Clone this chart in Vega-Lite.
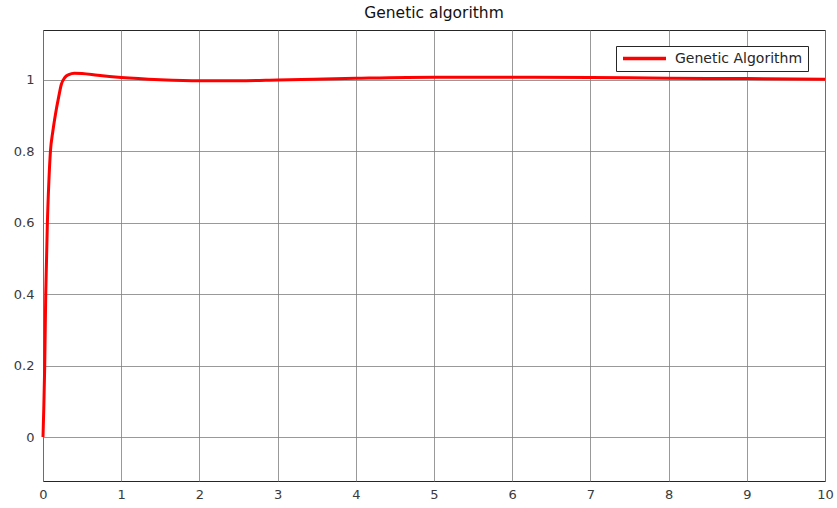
{
  "$schema": "https://vega.github.io/schema/vega-lite/v6.json",
  "width": 782,
  "height": 451,
  "autosize": "none",
  "padding": {"left": 43, "top": 30, "right": 12, "bottom": 27},
  "background": "white",
  "title": {"text": "Genetic algorithm", "fontSize": 15.5, "font": "DejaVu Sans", "fontWeight": "normal", "color": "#111111", "offset": 9, "anchor": "middle"},
  "config": {
    "view": {"stroke": "#262626", "strokeWidth": 1},
    "axis": {"labelFont": "DejaVu Sans", "labelFontSize": 13, "labelColor": "#3a3a3a", "gridColor": "#808080", "gridWidth": 1, "gridOpacity": 0.8, "domain": false, "ticks": false, "title": null}
  },
  "data": {"values": [
    {"t": 0, "v": 0, "s": "Genetic Algorithm"},
    {"t": 0.01, "v": 0.08, "s": "Genetic Algorithm"},
    {"t": 0.022, "v": 0.2, "s": "Genetic Algorithm"},
    {"t": 0.035, "v": 0.4, "s": "Genetic Algorithm"},
    {"t": 0.056, "v": 0.6, "s": "Genetic Algorithm"},
    {"t": 0.075, "v": 0.715, "s": "Genetic Algorithm"},
    {"t": 0.095, "v": 0.8, "s": "Genetic Algorithm"},
    {"t": 0.125, "v": 0.855, "s": "Genetic Algorithm"},
    {"t": 0.16, "v": 0.905, "s": "Genetic Algorithm"},
    {"t": 0.2, "v": 0.952, "s": "Genetic Algorithm"},
    {"t": 0.235, "v": 0.988, "s": "Genetic Algorithm"},
    {"t": 0.28, "v": 1.007, "s": "Genetic Algorithm"},
    {"t": 0.33, "v": 1.015, "s": "Genetic Algorithm"},
    {"t": 0.4, "v": 1.019, "s": "Genetic Algorithm"},
    {"t": 0.5, "v": 1.018, "s": "Genetic Algorithm"},
    {"t": 0.7, "v": 1.013, "s": "Genetic Algorithm"},
    {"t": 1, "v": 1.007, "s": "Genetic Algorithm"},
    {"t": 1.5, "v": 1.001, "s": "Genetic Algorithm"},
    {"t": 2, "v": 0.998, "s": "Genetic Algorithm"},
    {"t": 2.5, "v": 0.998, "s": "Genetic Algorithm"},
    {"t": 3, "v": 1.0, "s": "Genetic Algorithm"},
    {"t": 4, "v": 1.005, "s": "Genetic Algorithm"},
    {"t": 5, "v": 1.008, "s": "Genetic Algorithm"},
    {"t": 6, "v": 1.008, "s": "Genetic Algorithm"},
    {"t": 7, "v": 1.007, "s": "Genetic Algorithm"},
    {"t": 8, "v": 1.005, "s": "Genetic Algorithm"},
    {"t": 9, "v": 1.004, "s": "Genetic Algorithm"},
    {"t": 10, "v": 1.002, "s": "Genetic Algorithm"}
  ]},
  "mark": {"type": "line", "strokeWidth": 3, "interpolate": "monotone"},
  "encoding": {
    "x": {"field": "t", "type": "quantitative", "scale": {"domain": [0, 10], "nice": false, "zero": false},
      "axis": {"values": [0,1,2,3,4,5,6,7,8,9,10], "labelPadding": 7, "labelFlush": false, "format": "d"}},
    "y": {"field": "v", "type": "quantitative", "scale": {"domain": [-0.123, 1.14], "nice": false, "zero": false},
      "axis": {"values": [0,0.2,0.4,0.6,0.8,1], "labelPadding": 9, "format": "~g"}},
    "color": {"field": "s", "type": "nominal", "scale": {"range": ["#ff0000"]},
      "legend": {"title": null, "orient": "none", "legendX": 573, "legendY": 16, "fillColor": "white", "strokeColor": "#262626", "padding": 5, "clipHeight": 15, "symbolType": "stroke", "symbolSize": 1849, "symbolStrokeWidth": 3.5, "labelFont": "DejaVu Sans", "labelFontSize": 14, "labelColor": "#262626", "labelOffset": 7}}
  }
}
